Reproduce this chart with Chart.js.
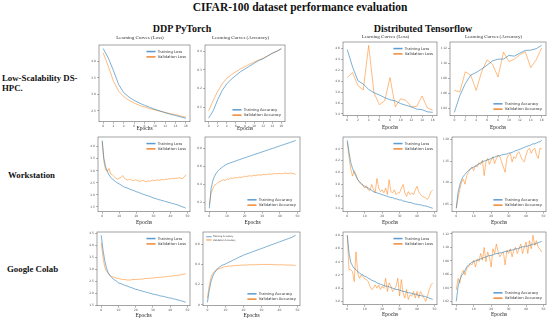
<!DOCTYPE html>
<html lang="en">
<head>
<meta charset="UTF-8">
<title>CIFAR-100 dataset performance evaluation</title>
<script src="https://cdn.jsdelivr.net/npm/chart.js"></script>
<style>
    body {
        margin: 0;
        width: 550px;
        height: 323px;
        background: #fff;
        position: relative;
        overflow: hidden;
        font-family: "Liberation Serif", serif;
    }

    .lbl {
        position: absolute;
        font-weight: bold;
        color: #111;
        white-space: nowrap;
        line-height: 1.1;
    }

    canvas {
        position: absolute;
    }
</style>
</head>
<body>
<div class="lbl" style="left:0;width:600px;top:1px;font-size:11.5px;text-align:center">CIFAR-100 dataset performance evaluation</div>
<div class="lbl" style="left:132px;width:100px;top:23px;font-size:10px;text-align:center">DDP PyTorch</div>
<div class="lbl" style="left:363px;width:120px;top:23px;font-size:10px;text-align:center">Distributed Tensorflow</div>
<div class="lbl" style="left:2px;top:74px;font-size:8.8px">Low-Scalability DS-<br>HPC.</div>
<div class="lbl" style="left:8px;top:171px;font-size:8.8px">Workstation</div>
<div class="lbl" style="left:7px;top:265px;font-size:8.8px">Google Colab</div>

<script>
    // epochs and x ticks
    const epochs17 = [0, 1, 2, 3, 4, 5, 6, 7, 8, 9, 10, 11, 12, 13, 14, 15, 16];
    const epochs50 = [0, 1, 2, 3, 4, 5, 6, 7, 8, 9, 10, 11, 12, 13, 14, 15, 16, 17, 18, 19,
        20, 21, 22, 23, 24, 25, 26, 27, 28, 29, 30, 31, 32, 33, 34, 35, 36, 37, 38, 39,
        40, 41, 42, 43, 44, 45, 46, 47, 48, 49];
    const xTicks17 = [0, 2, 4, 6, 8, 10, 12, 14, 16];
    const xTicks50 = [0, 10, 20, 30, 40, 50];

    const lossNames = ['Training Loss', 'Validation Loss'];
    const accNames = ['Training Accuracy', 'Validation Accuracy'];

    // Low-Scalability DS-HPC
    const hpcDdpTrainLoss = [4.39, 4.1, 3.72, 3.3, 3.05, 2.92, 2.82, 2.74, 2.67, 2.61, 2.55, 2.5, 2.45, 2.4, 2.36, 2.32, 2.28];
    const hpcDdpValLoss = [4.26, 3.85, 3.4, 3.1, 2.93, 2.82, 2.74, 2.67, 2.62, 2.57, 2.53, 2.49, 2.45, 2.42, 2.39, 2.35, 2.31];
    const hpcDdpTrainAcc = [0.04, 0.08, 0.14, 0.19, 0.225, 0.25, 0.27, 0.29, 0.305, 0.32, 0.335, 0.35, 0.36, 0.375, 0.39, 0.4, 0.415];
    const hpcDdpValAcc = [0.08, 0.135, 0.185, 0.225, 0.255, 0.275, 0.29, 0.305, 0.318, 0.33, 0.342, 0.353, 0.363, 0.375, 0.388, 0.4, 0.412];
    const hpcTfTrainLoss = [4.58, 4.26, 4.01, 3.95, 3.85, 3.79, 3.75, 3.7, 3.66, 3.64, 3.59, 3.56, 3.53, 3.49, 3.48, 3.44, 3.43];
    const hpcTfValLoss = [4.07, 4.16, 3.92, 3.84, 4.66, 3.79, 3.57, 3.64, 4.07, 3.53, 3.68, 3.65, 3.53, 3.54, 3.73, 3.51, 3.47];
    const hpcTfTrainAcc = [0.0345, 0.057, 0.073, 0.0845, 0.088, 0.0927, 0.098, 0.1036, 0.106, 0.106, 0.111, 0.11, 0.114, 0.1177, 0.118, 0.12, 0.1245];
    const hpcTfValAcc = [0.064, 0.062, 0.089, 0.0845, 0.064, 0.089, 0.105, 0.099, 0.082, 0.1155, 0.1027, 0.106, 0.112, 0.116, 0.0945, 0.105, 0.121];

    // Workstation
    const wsDdpTrainLoss = [4.26, 3.51, 3.17, 2.97, 2.83, 2.73, 2.65, 2.6, 2.54, 2.49, 2.45, 2.41, 2.36, 2.32, 2.3, 2.27, 2.24, 2.21, 2.19, 2.16,
        2.13, 2.11, 2.08, 2.05, 2.02, 2.0, 1.97, 1.96, 1.93, 1.9, 1.87, 1.85, 1.83, 1.8, 1.79, 1.76, 1.75, 1.72, 1.71, 1.68,
        1.67, 1.64, 1.63, 1.6, 1.59, 1.56, 1.53, 1.5, 1.48, 1.44];
    const wsDdpValLoss = [4.2, 3.38, 3.03, 2.97, 3.1, 2.86, 2.83, 2.76, 2.69, 2.65, 2.69, 2.72, 2.8, 2.69, 2.64, 2.61, 2.65, 2.62, 2.58, 2.61,
        2.62, 2.58, 2.56, 2.58, 2.6, 2.56, 2.54, 2.58, 2.56, 2.6, 2.61, 2.58, 2.62, 2.61, 2.6, 2.64, 2.62, 2.65, 2.64, 2.67,
        2.65, 2.69, 2.67, 2.69, 2.68, 2.72, 2.69, 2.67, 2.73, 2.83];
    const wsDdpTrainAcc = [0.13, 0.35, 0.44, 0.49, 0.525, 0.55, 0.57, 0.585, 0.6, 0.613, 0.625, 0.632, 0.639, 0.646, 0.653, 0.66, 0.667, 0.674, 0.681, 0.688,
        0.695, 0.701, 0.708, 0.715, 0.721, 0.728, 0.735, 0.741, 0.748, 0.755, 0.761, 0.768, 0.775, 0.781, 0.788, 0.795, 0.801, 0.808, 0.815, 0.821,
        0.828, 0.835, 0.841, 0.848, 0.855, 0.861, 0.868, 0.875, 0.882, 0.89];
    const wsDdpValAcc = [0.17, 0.3, 0.35, 0.39, 0.4, 0.42, 0.43, 0.44, 0.45, 0.44, 0.46, 0.455, 0.47, 0.465, 0.47, 0.475, 0.47, 0.48, 0.475, 0.48,
        0.49, 0.485, 0.49, 0.495, 0.49, 0.5, 0.495, 0.5, 0.505, 0.5, 0.505, 0.51, 0.505, 0.51, 0.515, 0.51, 0.515, 0.52, 0.515, 0.52,
        0.52, 0.515, 0.52, 0.525, 0.52, 0.52, 0.525, 0.52, 0.515, 0.51];
    const wsTfTrainLoss = [4.54, 4.34, 4.17, 4.07, 4.0, 3.94, 3.88, 3.85, 3.82, 3.79, 3.77, 3.75, 3.74, 3.72, 3.7, 3.68, 3.67, 3.66, 3.65, 3.64,
        3.63, 3.62, 3.61, 3.6, 3.59, 3.58, 3.58, 3.56, 3.56, 3.55, 3.54, 3.54, 3.52, 3.52, 3.51, 3.5, 3.5, 3.49, 3.48, 3.47,
        3.47, 3.46, 3.46, 3.45, 3.44, 3.44, 3.43, 3.42, 3.41, 3.4];
    const wsTfValLoss = [4.51, 4.26, 4.06, 3.94, 4.03, 3.97, 3.88, 3.83, 3.8, 3.78, 3.74, 3.78, 3.71, 3.7, 3.8, 3.72, 3.66, 3.9, 3.74, 3.68,
        3.71, 3.66, 3.74, 3.63, 3.88, 3.68, 3.66, 3.71, 3.63, 3.66, 3.66, 3.74, 3.8, 3.66, 3.6, 3.68, 3.63, 3.66, 3.63, 3.71,
        3.77, 3.68, 3.63, 3.6, 3.59, 3.57, 3.55, 3.6, 3.68, 3.71];
    const wsTfTrainAcc = [0.04, 0.076, 0.094, 0.106, 0.114, 0.119, 0.124, 0.128, 0.131, 0.134, 0.136, 0.138, 0.141, 0.143, 0.146, 0.148, 0.15, 0.151, 0.153, 0.154,
        0.156, 0.158, 0.159, 0.161, 0.162, 0.162, 0.164, 0.165, 0.166, 0.166, 0.168, 0.169, 0.17, 0.172, 0.174, 0.175, 0.177, 0.178, 0.18, 0.182,
        0.183, 0.185, 0.186, 0.188, 0.19, 0.19, 0.192, 0.194, 0.195, 0.198];
    const wsTfValAcc = [0.04, 0.064, 0.084, 0.1, 0.108, 0.096, 0.116, 0.124, 0.132, 0.136, 0.128, 0.14, 0.136, 0.146, 0.142, 0.152, 0.116, 0.148, 0.156, 0.142,
        0.152, 0.16, 0.144, 0.156, 0.164, 0.16, 0.148, 0.136, 0.124, 0.156, 0.164, 0.168, 0.148, 0.16, 0.156, 0.168, 0.172, 0.16, 0.152, 0.148,
        0.164, 0.176, 0.18, 0.168, 0.176, 0.18, 0.164, 0.156, 0.18, 0.178];

    // Google Colab
    const colabDdpTrainLoss = [4.42, 3.83, 3.38, 3.07, 2.87, 2.75, 2.67, 2.6, 2.55, 2.5, 2.44, 2.42, 2.39, 2.36, 2.33, 2.31, 2.28, 2.25, 2.23, 2.2,
        2.17, 2.16, 2.13, 2.12, 2.09, 2.08, 2.05, 2.04, 2.01, 2.0, 1.97, 1.96, 1.94, 1.93, 1.9, 1.89, 1.88, 1.86, 1.84, 1.82,
        1.81, 1.8, 1.77, 1.76, 1.74, 1.72, 1.7, 1.68, 1.66, 1.63];
    const colabDdpValLoss = [4.12, 3.52, 3.11, 2.94, 2.83, 2.76, 2.71, 2.68, 2.66, 2.63, 2.62, 2.6, 2.59, 2.58, 2.58, 2.56, 2.56, 2.56, 2.58, 2.58,
        2.58, 2.59, 2.59, 2.6, 2.6, 2.62, 2.62, 2.63, 2.63, 2.64, 2.64, 2.66, 2.66, 2.67, 2.67, 2.68, 2.68, 2.7, 2.71, 2.71,
        2.72, 2.72, 2.74, 2.75, 2.75, 2.76, 2.78, 2.79, 2.81, 2.82];
    const colabDdpTrainAcc = [0.026, 0.143, 0.231, 0.286, 0.319, 0.345, 0.365, 0.378, 0.391, 0.397, 0.404, 0.414, 0.423, 0.43, 0.44, 0.449, 0.456, 0.466, 0.476, 0.482,
        0.492, 0.498, 0.505, 0.511, 0.518, 0.524, 0.531, 0.537, 0.544, 0.55, 0.557, 0.563, 0.57, 0.577, 0.583, 0.59, 0.596, 0.603, 0.609, 0.616,
        0.622, 0.629, 0.635, 0.642, 0.648, 0.655, 0.661, 0.668, 0.678, 0.687];
    const colabDdpValAcc = [0.068, 0.189, 0.273, 0.313, 0.332, 0.345, 0.355, 0.361, 0.368, 0.374, 0.378, 0.381, 0.384, 0.384, 0.387, 0.387, 0.391, 0.391, 0.391, 0.394,
        0.394, 0.394, 0.394, 0.397, 0.397, 0.397, 0.397, 0.397, 0.397, 0.4, 0.4, 0.4, 0.4, 0.4, 0.4, 0.4, 0.4, 0.397, 0.397, 0.397,
        0.397, 0.397, 0.397, 0.394, 0.394, 0.394, 0.394, 0.394, 0.391, 0.391];
    const colabTfTrainLoss = [4.8, 4.53, 4.39, 4.34, 4.3, 4.28, 4.25, 4.23, 4.21, 4.2, 4.18, 4.17, 4.15, 4.14, 4.12, 4.11, 4.1, 4.08, 4.07, 4.06,
        4.05, 4.04, 4.03, 4.03, 4.02, 4.01, 4.0, 3.99, 3.98, 3.98, 3.97, 3.96, 3.95, 3.95, 3.94, 3.93, 3.93, 3.92, 3.91, 3.91,
        3.9, 3.89, 3.89, 3.88, 3.88, 3.87, 3.86, 3.85, 3.84, 3.83];
    const colabTfValLoss = [4.8, 4.28, 4.28, 4.25, 4.1, 4.55, 4.23, 4.15, 4.2, 4.18, 4.14, 4.13, 4.1, 4.03, 3.98, 4.0, 4.05, 4.0, 4.05, 3.98,
        4.03, 4.0, 4.15, 3.95, 4.08, 4.03, 3.95, 3.98, 4.03, 4.15, 3.88, 4.13, 3.93, 3.85, 3.98, 3.83, 3.9, 3.88, 3.95, 3.85,
        3.95, 3.85, 3.95, 3.9, 3.85, 3.8, 3.88, 3.98, 4.05, 4.08];
    const colabTfTrainAcc = [0.02, 0.042, 0.052, 0.058, 0.061, 0.066, 0.071, 0.074, 0.076, 0.078, 0.079, 0.08, 0.081, 0.082, 0.083, 0.084, 0.085, 0.086, 0.087, 0.088,
        0.088, 0.089, 0.09, 0.091, 0.091, 0.092, 0.092, 0.093, 0.094, 0.094, 0.095, 0.096, 0.096, 0.097, 0.098, 0.098, 0.099, 0.1, 0.101, 0.101,
        0.102, 0.102, 0.103, 0.104, 0.105, 0.105, 0.106, 0.107, 0.108, 0.109];
    const colabTfValAcc = [0.037, 0.054, 0.047, 0.061, 0.066, 0.059, 0.069, 0.071, 0.076, 0.074, 0.081, 0.071, 0.083, 0.079, 0.091, 0.081, 0.1, 0.079, 0.093, 0.086,
        0.071, 0.098, 0.091, 0.105, 0.093, 0.086, 0.091, 0.093, 0.074, 0.096, 0.091, 0.098, 0.086, 0.096, 0.1, 0.091, 0.098, 0.105, 0.091, 0.1,
        0.108, 0.091, 0.11, 0.098, 0.118, 0.103, 0.11, 0.1, 0.098, 0.093];

    // plot rectangles (l, t, r, b) for each panel
    const panels = [
        { l: 99, t: 45, r: 190, b: 122, title: 'Learning Curves (Loss)', titleY: 38, ep: 7, x: epochs17, ticks: xTicks17, train: hpcDdpTrainLoss, val: hpcDdpValLoss, names: lossNames, keys: [{ corner: 'tr', size: 3.8 }] },
        { l: 205, t: 45, r: 285, b: 122, title: 'Learning Curves (Accuracy)', titleY: 38, ep: 7, x: epochs17, ticks: xTicks17, train: hpcDdpTrainAcc, val: hpcDdpValAcc, names: accNames, keys: [{ corner: 'br', size: 3.8 }] },
        { l: 343, t: 42, r: 437, b: 116, title: 'Learning Curves (Loss)', titleY: 37, ep: 12, x: epochs17, ticks: xTicks17, train: hpcTfTrainLoss, val: hpcTfValLoss, names: lossNames, keys: [{ corner: 'tr', size: 3.8 }] },
        { l: 450, t: 42, r: 546, b: 116, title: 'Learning Curves (Accuracy)', titleY: 37, ep: 12, x: epochs17, ticks: xTicks17, train: hpcTfTrainAcc, val: hpcTfValAcc, names: accNames, keys: [{ corner: 'br', size: 3.8 }] },

        { l: 98, t: 137, r: 190, b: 212, ep: 11, x: epochs50, ticks: xTicks50, train: wsDdpTrainLoss, val: wsDdpValLoss, names: lossNames, keys: [{ corner: 'tr', size: 3.8 }] },
        { l: 205, t: 137, r: 300, b: 212, ep: 11, x: epochs50, ticks: xTicks50, train: wsDdpTrainAcc, val: wsDdpValAcc, names: accNames, keys: [{ corner: 'br', size: 3.8 }] },
        { l: 343, t: 137, r: 437, b: 212, ep: 11, x: epochs50, ticks: xTicks50, train: wsTfTrainLoss, val: wsTfValLoss, names: lossNames, keys: [{ corner: 'tr', size: 3.8 }] },
        { l: 452, t: 137, r: 546, b: 212, ep: 11, x: epochs50, ticks: xTicks50, train: wsTfTrainAcc, val: wsTfValAcc, names: accNames, keys: [{ corner: 'br', size: 3.8 }] },

        { l: 97, t: 232, r: 190, b: 306, ep: 10, x: epochs50, ticks: xTicks50, train: colabDdpTrainLoss, val: colabDdpValLoss, names: lossNames, keys: [{ corner: 'tr', size: 3.8 }] },
        { l: 203, t: 232, r: 300, b: 306, ep: 10, x: epochs50, ticks: xTicks50, train: colabDdpTrainAcc, val: colabDdpValAcc, names: accNames, keys: [{ corner: 'br', size: 3.8 }, { corner: 'tl', size: 2.3 }] },
        { l: 343, t: 232, r: 437, b: 305, ep: 10, x: epochs50, ticks: xTicks50, train: colabTfTrainLoss, val: colabTfValLoss, names: lossNames, keys: [{ corner: 'tr', size: 3.8 }] },
        { l: 452, t: 232, r: 546, b: 305, ep: 10, x: epochs50, ticks: xTicks50, train: colabTfTrainAcc, val: colabTfValAcc, names: accNames, keys: [{ corner: 'br', size: 3.8 }] }
    ];

    const lineColors = ['rgba(31,119,180,0.58)', 'rgba(255,127,14,0.52)'];
    const keyColors = ['#5b9bd0', '#f08a36'];
    const Y_W = 9;

    // box around the plot area, like matplotlib's frame
    const framePlugin = {
        id: 'frame',
        afterDraw(chart) {
            const a = chart.chartArea, ctx = chart.ctx;
            ctx.save();
            ctx.strokeStyle = '#666';
            ctx.lineWidth = 0.6;
            ctx.strokeRect(a.left, a.top, a.right - a.left, a.bottom - a.top);
            ctx.restore();
        }
    };

    // legend drawn inside the plot area
    const keyPlugin = {
        id: 'key',
        afterDraw(chart, args, opts) {
            (opts.boxes || []).forEach(b => drawKey(chart, b));
        }
    };

    function drawKey(chart, b) {
        const a = chart.chartArea, ctx = chart.ctx, fs = b.size;
        const names = chart.data.datasets.map(d => d.label);
        ctx.save();
        ctx.font = fs + 'px "DejaVu Sans"';
        const tw = Math.max(...names.map(n => ctx.measureText(n).width));
        const sample = fs * 2.4, pad = fs * 0.5, row = fs * 1.4;
        const w = pad * 2 + sample + fs * 0.6 + tw, h = pad * 2 + row * names.length;
        const x0 = b.corner[1] === 'r' ? a.right - w - 2 : a.left + 2;
        const y0 = b.corner[0] === 't' ? a.top + 2 : a.bottom - h - 2;
        ctx.fillStyle = 'rgba(255,255,255,0.85)';
        ctx.fillRect(x0, y0, w, h);
        names.forEach((n, i) => {
            const yy = y0 + pad + row * (i + 0.5);
            ctx.strokeStyle = keyColors[i];
            ctx.lineWidth = fs * 0.4;
            ctx.beginPath();
            ctx.moveTo(x0 + pad, yy);
            ctx.lineTo(x0 + pad + sample, yy);
            ctx.stroke();
            ctx.fillStyle = '#333';
            ctx.textBaseline = 'middle';
            ctx.fillText(n, x0 + pad + sample + fs * 0.6, yy);
        });
        ctx.restore();
    }

    function span(arr) {
        const lo = Math.min(...arr), hi = Math.max(...arr), m = (hi - lo) * 0.05;
        return [lo - m, hi + m];
    }

    function makePanel(p) {
        const pb = p.title ? p.t - p.titleY - 3 : 0;
        const topSpace = p.title ? 6 + pb : 3;
        const xh = p.ep + 3.3;
        const cv = document.createElement('canvas');
        cv.width = Y_W + (p.r - p.l) + 2;
        cv.height = Math.round(topSpace + (p.b - p.t) + xh + 1);
        cv.style.left = (p.l - Y_W) + 'px';
        cv.style.top = (p.t - topSpace) + 'px';
        document.body.appendChild(cv);

        const [xmin, xmax] = span(p.x);
        const [ymin, ymax] = span(p.train.concat(p.val));
        const grid = { drawOnChartArea: false, tickLength: 2, color: '#666', lineWidth: 0.5 };
        const tickFont = { family: '"DejaVu Sans"', size: 3 };

        new Chart(cv, {
            type: 'line',
            data: {
                datasets: [p.train, p.val].map((vals, i) => ({
                    label: p.names[i],
                    data: vals.map((v, j) => ({ x: p.x[j], y: v })),
                    borderColor: lineColors[i],
                    borderWidth: 1,
                    pointRadius: 0,
                    tension: 0,
                    fill: false
                }))
            },
            options: {
                responsive: false,
                animation: false,
                layout: { padding: { top: p.title ? 0 : 3, right: 2, left: 0, bottom: 1 } },
                plugins: {
                    legend: { display: false },
                    tooltip: { enabled: false },
                    title: {
                        display: !!p.title,
                        text: p.title,
                        color: '#333',
                        font: { family: '"Liberation Serif"', size: 5, weight: 'normal' },
                        padding: { top: 0, bottom: pb }
                    },
                    key: { boxes: p.keys }
                },
                scales: {
                    x: {
                        type: 'linear',
                        min: xmin,
                        max: xmax,
                        afterBuildTicks: s => { s.ticks = p.ticks.map(v => ({ value: v })); },
                        afterFit: s => { s.height = xh; s.paddingLeft = 0; s.paddingRight = 0; },
                        grid: grid,
                        border: { display: false },
                        ticks: { font: tickFont, color: '#555', padding: 1, maxRotation: 0, autoSkip: false },
                        title: { display: true, text: 'Epochs', color: '#222', padding: 0, font: { family: '"Liberation Serif"', size: 5.5 } }
                    },
                    y: {
                        min: ymin,
                        max: ymax,
                        afterFit: s => { s.width = Y_W; s.paddingTop = 0; s.paddingBottom = 0; },
                        grid: grid,
                        border: { display: false },
                        ticks: { font: tickFont, color: '#555', padding: 1, maxTicksLimit: 9, includeBounds: false }
                    }
                }
            },
            plugins: [framePlugin, keyPlugin]
        });
    }

    panels.forEach(makePanel);
</script>
</body>
</html>
